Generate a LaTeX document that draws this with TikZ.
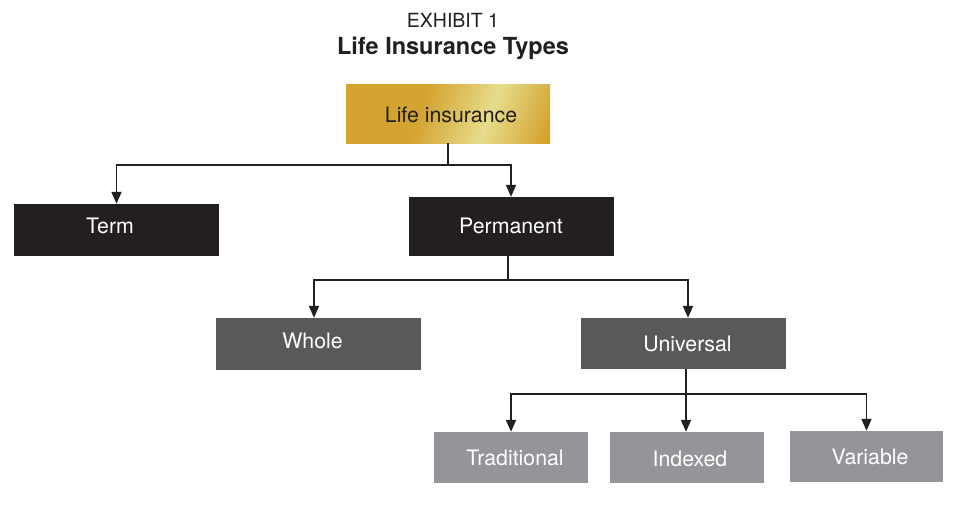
\documentclass[tikz,border=0pt]{standalone}
\usepackage{fontspec}
\setmainfont{TeX Gyre Heros}
\usetikzlibrary{arrows.meta}
\definecolor{inkblack}{HTML}{231F20}
\definecolor{darkgr}{HTML}{58595B}
\definecolor{lightgr}{HTML}{939598}
\definecolor{goldA}{HTML}{E0BE36}
\definecolor{goldB}{HTML}{D4A430}
\definecolor{goldC}{HTML}{E6DC8C}
\definecolor{goldD}{HTML}{C39A12}
\pgfdeclarehorizontalshading{goldsh}{100bp}{color(0bp)=(goldA); color(20bp)=(goldB); color(42bp)=(goldB); color(62bp)=(goldC); color(80bp)=(goldB); color(100bp)=(goldD)}
\tikzset{
  box/.style={rectangle, inner sep=0pt},
  blackbox/.style={box, fill=inkblack},
  darkbox/.style={box, fill=darkgr},
  lightbox/.style={box, fill=lightgr},
  goldbox/.style={box, shading=goldsh, shading angle=-20},
  lbl/.style={inner sep=0pt, text=white, font=\fontsize{21.3}{25}\selectfont},
  arr/.style={draw=inkblack, line width=1.8pt, -{Triangle[width=10pt,length=12pt]}},
  ln/.style={draw=inkblack, line width=1.8pt},
}
\begin{document}
\begin{tikzpicture}[x=1pt,y=-1pt]
\useasboundingbox (0,0) rectangle (958,504);
\node[font=\fontsize{19.5}{24}\selectfont, text=inkblack] (t1) at (453,20) {EXHIBIT 1};
\node[font=\fontsize{23.5}{28}\selectfont\bfseries, text=inkblack] (t2) at (453,48) {Life Insurance Types};

\node[goldbox, minimum width=204pt, minimum height=59pt] (life) at (448,113.5) {};
\node[blackbox, minimum width=205pt, minimum height=52pt] (term) at (116.5,230) {};
\node[blackbox, minimum width=205pt, minimum height=59pt] (perm) at (511,226.5) {};
\node[darkbox, minimum width=205pt, minimum height=52pt] (whole) at (318.5,344) {};
\node[darkbox, minimum width=205pt, minimum height=51pt] (univ) at (683.5,343.5) {};
\node[lightbox, minimum width=154pt, minimum height=51pt] (trad) at (511,457.5) {};
\node[lightbox, minimum width=154pt, minimum height=51pt] (idx) at (687,457.5) {};
\node[lightbox, minimum width=153pt, minimum height=51pt] (var) at (866.5,456.5) {};

\node[lbl, text=inkblack] (lifet) at ([xshift=3pt,yshift=-1.5pt]life.center) {Life insurance};
\node[lbl] (termt) at ([xshift=-6.5pt,yshift=4.5pt]term.center) {Term};
\node[lbl] (permt) at ([yshift=1pt]perm.center) {Permanent};
\node[lbl] (wholet) at ([xshift=-6pt,yshift=3pt]whole.center) {Whole};
\node[lbl] (univt) at ([xshift=4pt]univ.center) {Universal};
\node[lbl] (tradt) at ([xshift=4pt]trad.center) {Traditional};
\node[lbl] (idxt) at ([xshift=3pt,yshift=-1.5pt]idx.center) {Indexed};
\node[lbl] (vart) at ([xshift=3.5pt,yshift=-0.5pt]var.center) {Variable};

\coordinate (j1) at (448,165);
\coordinate (j2) at (508,280);
\coordinate (j3) at (686,394);

\draw[ln] (life.south) -- (j1);
\draw[arr] (j1) -| (term.north);
\draw[arr] (j1) -| (perm.north);

\draw[ln] (perm.south -| j2) -- (j2);
\draw[arr] (j2) -| ([xshift=-4.5pt]whole.north);
\draw[arr] (j2) -| ([xshift=4.5pt]univ.north);

\draw[ln] (univ.south -| j3) -- (j3);
\draw[arr] (j3) -| (trad.north);
\draw[arr] (j3) -- (j3 |- idx.north);
\draw[arr] (j3) -| (var.north);
\end{tikzpicture}
\end{document}
